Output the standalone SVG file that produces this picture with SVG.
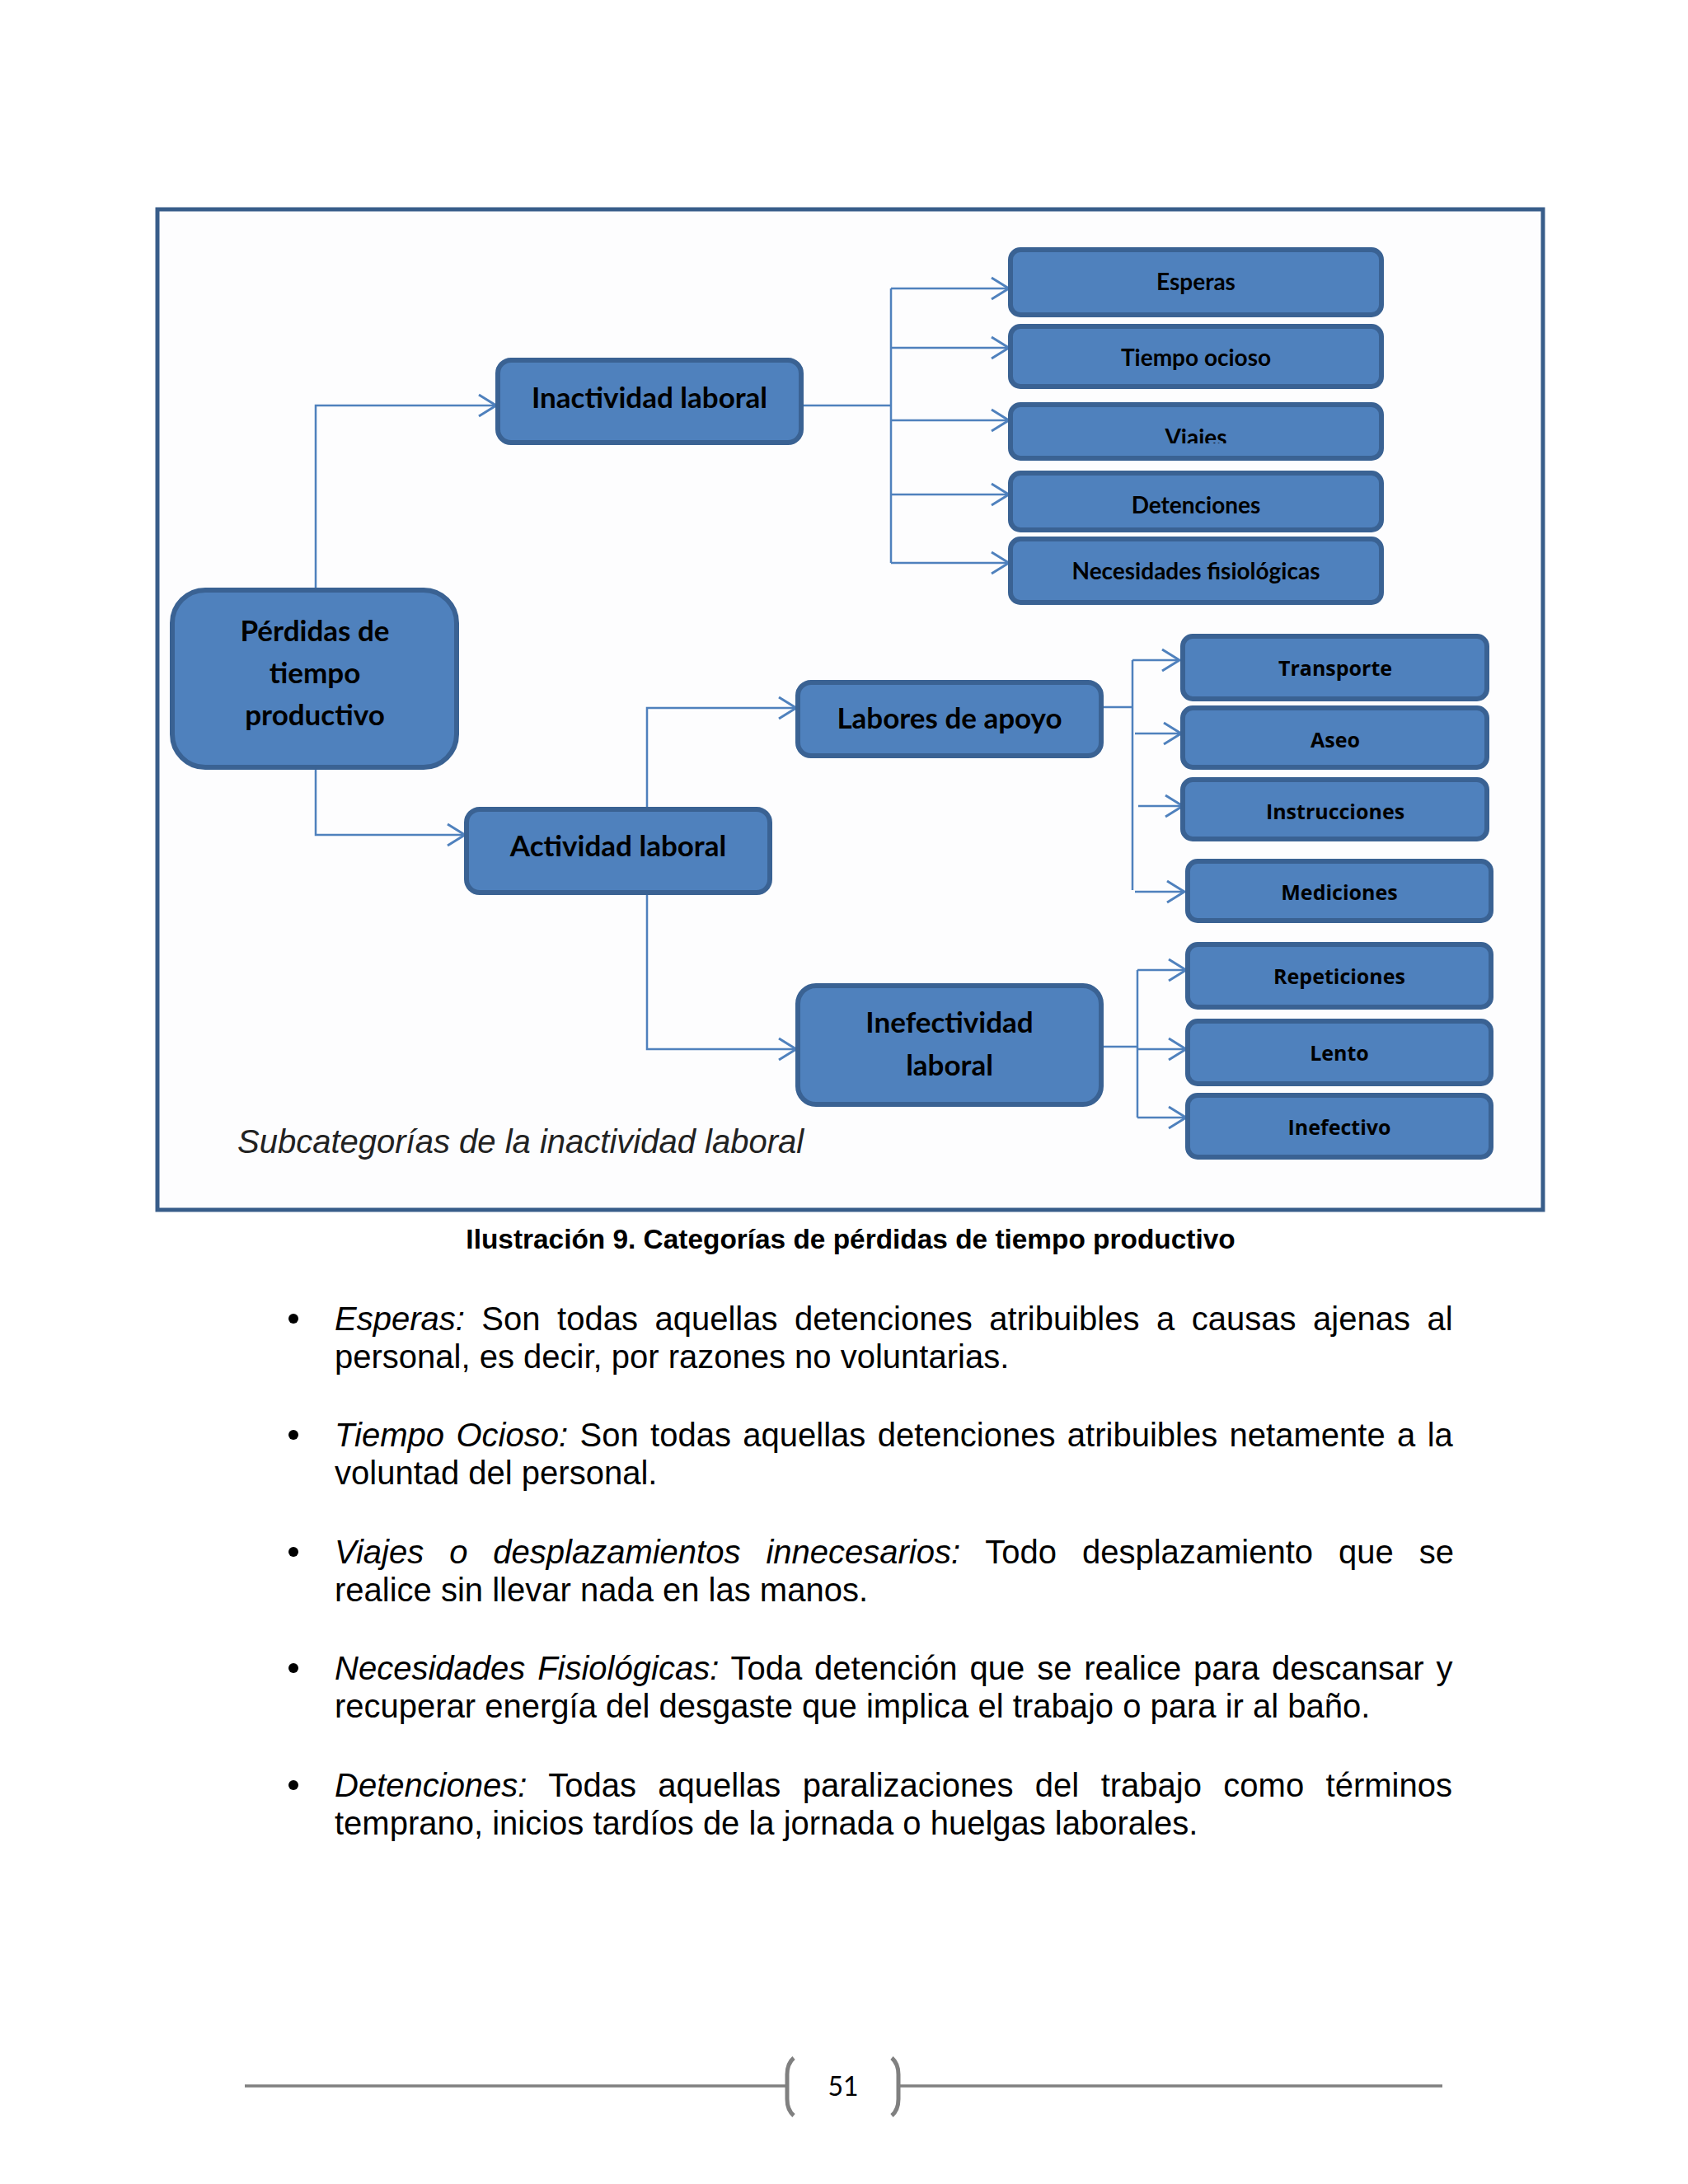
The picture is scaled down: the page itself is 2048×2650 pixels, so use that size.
<svg xmlns="http://www.w3.org/2000/svg" width="2048" height="2650" viewBox="0 0 2048 2650">
<defs>
<style>
.box{fill:#4f81bd;stroke:#3a6293;stroke-width:6}
.main{font-family:Lato,"Open Sans","Liberation Sans",sans-serif;font-weight:bold;font-size:35px;fill:#000;text-anchor:middle}
.sub1{font-family:Lato,"Open Sans","Liberation Sans",sans-serif;font-weight:bold;font-size:28px;fill:#000;text-anchor:middle}
.sub2{font-family:"Open Sans","Liberation Sans",sans-serif;font-weight:bold;font-size:25px;fill:#000;text-anchor:middle}
.con{fill:none;stroke:#4f81bd;stroke-width:2.5}
.body{font-family:"Liberation Sans",Arial,sans-serif;font-size:40px;fill:#000}
.it{font-style:italic}
</style>
<marker id="arr" markerUnits="userSpaceOnUse" markerWidth="26" markerHeight="30" refX="23" refY="15" orient="auto">
<path d="M2 2 L23 15 L2 28" fill="none" stroke="#4f81bd" stroke-width="3"/>
</marker>
<clipPath id="clipViajes"><rect x="1226" y="491" width="450" height="47"/></clipPath>
</defs>
<rect x="0" y="0" width="2048" height="2650" fill="#fff"/>
<rect x="191" y="254" width="1681" height="1214" fill="#fdfdfe" stroke="#385d8a" stroke-width="5"/>

<g id="connectors">
<path class="con" d="M383 717 V492 H602" marker-end="url(#arr)"/>
<path class="con" d="M383 932 V1013 H564" marker-end="url(#arr)"/>
<path class="con" d="M972 492 H1081"/>
<path class="con" d="M1081 350 V683"/>
<path class="con" d="M1081 350 H1224" marker-end="url(#arr)"/>
<path class="con" d="M1081 422 H1224" marker-end="url(#arr)"/>
<path class="con" d="M1081 510 H1224" marker-end="url(#arr)"/>
<path class="con" d="M1081 600 H1224" marker-end="url(#arr)"/>
<path class="con" d="M1081 683 H1224" marker-end="url(#arr)"/>
<path class="con" d="M785 982 V859 H966" marker-end="url(#arr)"/>
<path class="con" d="M785 1083 V1273 H966" marker-end="url(#arr)"/>
<path class="con" d="M1336 858 H1374"/>
<path class="con" d="M1374 801 V1080"/>
<path class="con" d="M1374 801 H1431" marker-end="url(#arr)"/>
<path class="con" d="M1377 890 H1433" marker-end="url(#arr)"/>
<path class="con" d="M1381 978 H1435" marker-end="url(#arr)"/>
<path class="con" d="M1377 1082 H1437" marker-end="url(#arr)"/>
<path class="con" d="M1336 1270 H1380"/>
<path class="con" d="M1380 1177 V1356"/>
<path class="con" d="M1380 1177 H1439" marker-end="url(#arr)"/>
<path class="con" d="M1380 1273 H1439" marker-end="url(#arr)"/>
<path class="con" d="M1380 1356 H1439" marker-end="url(#arr)"/>
</g>

<g id="perdidas">
<rect class="box" x="209" y="716" width="345" height="215" rx="40"/>
<text class="main" x="382" y="778">Pérdidas de</text>
<text class="main" x="382" y="829">tiempo</text>
<text class="main" x="382" y="880">productivo</text>
</g>
<g id="inactividad">
<rect class="box" x="604" y="437" width="368" height="100" rx="16"/>
<text class="main" x="788" y="495">Inactividad laboral</text>
</g>
<g id="actividad">
<rect class="box" x="566" y="982" width="368" height="101" rx="16"/>
<text class="main" x="750" y="1039">Actividad laboral</text>
</g>
<g id="labores">
<rect class="box" x="968" y="828" width="368" height="89" rx="16"/>
<text class="main" x="1152" y="884">Labores de apoyo</text>
</g>
<g id="inefectividad">
<rect class="box" x="968" y="1196" width="368" height="144" rx="22"/>
<text class="main" x="1152" y="1253">Inefectividad</text>
<text class="main" x="1152" y="1305">laboral</text>
</g>

<g id="esperas">
<rect class="box" x="1226" y="303" width="450" height="79" rx="12"/>
<text class="sub1" x="1451" y="352">Esperas</text>
</g>
<g id="tiempo-ocioso">
<rect class="box" x="1226" y="396" width="450" height="73" rx="12"/>
<text class="sub1" x="1451" y="444">Tiempo ocioso</text>
</g>
<g id="viajes">
<rect class="box" x="1226" y="491" width="450" height="65" rx="12"/>
<text class="sub1" x="1451" y="541" clip-path="url(#clipViajes)">Viajes</text>
</g>
<g id="detenciones">
<rect class="box" x="1226" y="574" width="450" height="69" rx="12"/>
<text class="sub1" x="1451" y="623">Detenciones</text>
</g>
<g id="necesidades">
<rect class="box" x="1226" y="654" width="450" height="77" rx="12"/>
<text class="sub1" x="1451" y="703">Necesidades fisiológicas</text>
</g>

<g id="transporte">
<rect class="box" x="1435" y="772" width="369" height="76" rx="12"/>
<text class="sub2" x="1620" y="820">Transporte</text>
</g>
<g id="aseo">
<rect class="box" x="1435" y="859" width="369" height="72" rx="12"/>
<text class="sub2" x="1620" y="907">Aseo</text>
</g>
<g id="instrucciones">
<rect class="box" x="1435" y="946" width="369" height="72" rx="12"/>
<text class="sub2" x="1620" y="994">Instrucciones</text>
</g>
<g id="mediciones">
<rect class="box" x="1441" y="1045" width="368" height="72" rx="12"/>
<text class="sub2" x="1625" y="1092">Mediciones</text>
</g>
<g id="repeticiones">
<rect class="box" x="1441" y="1146" width="368" height="76" rx="12"/>
<text class="sub2" x="1625" y="1194">Repeticiones</text>
</g>
<g id="lento">
<rect class="box" x="1441" y="1239" width="368" height="76" rx="12"/>
<text class="sub2" x="1625" y="1287">Lento</text>
</g>
<g id="inefectivo">
<rect class="box" x="1441" y="1329" width="368" height="75" rx="12"/>
<text class="sub2" x="1625" y="1377">Inefectivo</text>
</g>

<text x="288" y="1399" font-family="Liberation Sans, Arial, sans-serif" font-style="italic" font-size="40" fill="#222">Subcategorías de la inactividad laboral</text>

<text x="1032" y="1515" font-family="Liberation Sans, Arial, sans-serif" font-weight="bold" font-size="33.4" fill="#000" text-anchor="middle">Ilustración 9. Categorías de pérdidas de tiempo productivo</text>

<g id="bullets" fill="#000">
<circle cx="356" cy="1600" r="6"/>
<circle cx="356" cy="1741" r="6"/>
<circle cx="356" cy="1883" r="6"/>
<circle cx="356" cy="2024" r="6"/>
<circle cx="356" cy="2166" r="6"/>
</g>
<g id="paragraphs">
<text class="body" x="406" y="1614" word-spacing="9.4"><tspan class="it">Esperas:</tspan> Son todas aquellas detenciones atribuibles a causas ajenas al</text>
<text class="body" x="406" y="1660">personal, es decir, por razones no voluntarias.</text>
<text class="body" x="406" y="1755" word-spacing="3.3"><tspan class="it">Tiempo Ocioso:</tspan> Son todas aquellas detenciones atribuibles netamente a la</text>
<text class="body" x="406" y="1801">voluntad del personal.</text>
<text class="body" x="406" y="1897" word-spacing="19.8"><tspan class="it">Viajes o desplazamientos innecesarios:</tspan> Todo desplazamiento que se</text>
<text class="body" x="406" y="1943">realice sin llevar nada en las manos.</text>
<text class="body" x="406" y="2038" word-spacing="3.8"><tspan class="it">Necesidades Fisiológicas:</tspan> Toda detención que se realice para descansar y</text>
<text class="body" x="406" y="2084">recuperar energía del desgaste que implica el trabajo o para ir al baño.</text>
<text class="body" x="406" y="2180" word-spacing="15.3"><tspan class="it">Detenciones:</tspan> Todas aquellas paralizaciones del trabajo como términos</text>
<text class="body" x="406" y="2226">temprano, inicios tardíos de la jornada o huelgas laborales.</text>
</g>

<g id="footer">
<path d="M297 2531 H955 M1090 2531 H1750" stroke="#808080" stroke-width="3.5" fill="none"/>
<path d="M963 2497 Q955 2504 955 2517 V2547 Q955 2560 963 2567" stroke="#808080" stroke-width="5" fill="none"/>
<path d="M1082 2497 Q1090 2504 1090 2517 V2547 Q1090 2560 1082 2567" stroke="#808080" stroke-width="5" fill="none"/>
<text x="1023" y="2543" font-family="Lato, 'Open Sans', sans-serif" font-size="32" fill="#000" text-anchor="middle">51</text>
</g>
</svg>
